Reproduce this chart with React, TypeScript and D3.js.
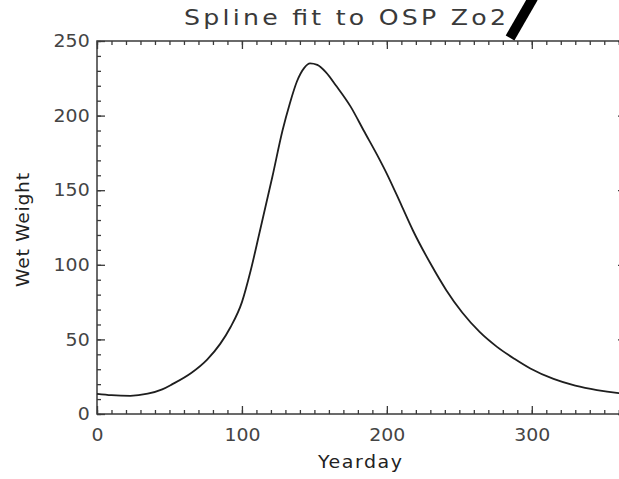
import { useRef, useEffect } from 'react'
import * as d3 from 'd3'

// spline values (yearday, wet weight)
const yeardays = [0, 10, 23, 35, 45, 52, 65, 76, 85, 92, 100, 106, 112, 121, 128, 133, 138, 143, 147, 152, 158, 165, 175, 184, 195, 200, 210, 218, 230, 241, 252, 264, 276, 288, 299, 315, 330, 345, 360, 365]
const wetWeight = [13.5, 12.6, 12.2, 13.6, 16.5, 20, 27.5, 36.5, 47, 58, 75, 96, 121, 159, 190, 208, 223, 232, 235, 234, 229, 220, 206, 190, 170.5, 161, 140, 123, 101, 83, 68, 55, 45, 37, 30.5, 23.5, 19, 16, 14, 13.5]

const xTicks = [0, 100, 200, 300]
const yTicks = [0, 50, 100, 150, 200, 250]
const xDomain = [0, 365]
const yDomain = [0, 250]

// the black slash over the title corner, in data units
const slash = [
	{ x: 285, y: 252 },
	{ x: 301, y: 279 },
]

const title = 'Spline fit to OSP Zo2'
const xLabel = 'Yearday'
const yLabel = 'Wet Weight'

export default function App() {
	const ref = useRef<SVGSVGElement>(null)

	const chartWidth = 619
	const chartHeight = 479
	const margin = { top: 41, right: -7, bottom: 65, left: 97 }
	const width = chartWidth - margin.left - margin.right
	const height = chartHeight - margin.top - margin.bottom

	useEffect(() => {
		const svg = d3.select(ref.current)
		svg.selectAll('*').remove()

		const x = d3.scaleLinear().domain(xDomain).range([0, width])
		const y = d3.scaleLinear().domain(yDomain).range([height, 0])

		const g = svg.append('g').attr('transform', `translate(${margin.left},${margin.top})`)

		const axisColor = '#3a3a3a'
		const font = 'DejaVu Sans, sans-serif'
		const minorX = d3.range(0, 366, 10)
		const minorY = d3.range(0, 251, 10)

		// frame
		g.append('rect')
			.attr('width', width)
			.attr('height', height)
			.attr('fill', 'none')
			.attr('stroke', axisColor)
			.attr('stroke-width', 1.5)

		const styleAxis = (sel: any) => {
			sel.select('.domain').remove()
			sel.selectAll('line').attr('stroke', axisColor).attr('stroke-width', 1.3)
			sel.selectAll('text')
				.attr('fill', '#444')
				.attr('font-family', font)
				.attr('font-size', 18)
				.attr('transform', 'scale(1.05,1)')
		}

		// minor ticks
		g.append('g').attr('transform', `translate(0,${height})`)
			.call(d3.axisBottom(x).tickValues(minorX).tickSize(-4).tickFormat(() => ''))
			.call(styleAxis)
		g.append('g')
			.call(d3.axisTop(x).tickValues(minorX).tickSize(-4).tickFormat(() => ''))
			.call(styleAxis)
		g.append('g')
			.call(d3.axisLeft(y).tickValues(minorY).tickSize(-4).tickFormat(() => ''))
			.call(styleAxis)
		g.append('g').attr('transform', `translate(${width},0)`)
			.call(d3.axisRight(y).tickValues(minorY).tickSize(-4).tickFormat(() => ''))
			.call(styleAxis)

		// major ticks with labels
		g.append('g').attr('transform', `translate(0,${height})`)
			.call(d3.axisBottom(x).tickValues(xTicks).tickSize(-8).tickPadding(14).tickFormat(d3.format('d')))
			.call(styleAxis)
		g.append('g')
			.call(d3.axisTop(x).tickValues(xTicks).tickSize(-8).tickFormat(() => ''))
			.call(styleAxis)
		g.append('g')
			.call(d3.axisLeft(y).tickValues(yTicks).tickSize(-8).tickPadding(7).tickFormat(d3.format('d')))
			.call(styleAxis)
		g.append('g').attr('transform', `translate(${width},0)`)
			.call(d3.axisRight(y).tickValues(yTicks).tickSize(-8).tickFormat(() => ''))
			.call(styleAxis)

		// curve
		const data = yeardays.map((d, i) => ({ x: d, y: wetWeight[i] }))
		const line = d3.line<{ x: number; y: number }>()
			.x((d) => x(d.x))
			.y((d) => y(d.y))
			.curve(d3.curveMonotoneX)
		g.append('path')
			.datum(data)
			.attr('d', line)
			.attr('fill', 'none')
			.attr('stroke', '#1e1e1e')
			.attr('stroke-width', 1.8)

		// slash
		g.append('path')
			.datum(slash)
			.attr('d', d3.line<{ x: number; y: number }>().x((d) => x(d.x)).y((d) => y(d.y)))
			.attr('stroke', '#000')
			.attr('stroke-width', 10)
			.attr('fill', 'none')

		// texts, drawn a bit wide like the plotting font
		const wideText = (cx: number, cy: number, rot: number, sx: number, size: number, len: number, txt: string, color: string) => {
			svg.append('g')
				.attr('transform', `translate(${cx},${cy}) rotate(${rot}) scale(${sx},1)`)
				.append('text')
				.attr('text-anchor', 'middle')
				.attr('textLength', len / sx)
				.attr('lengthAdjust', 'spacing')
				.attr('font-family', font)
				.attr('font-size', size)
				.attr('fill', color)
				.text(txt)
		}
		wideText(345, 25, 0, 1.2, 21, 322, title, '#3a3a3a')
		wideText(360, 468, 0, 1.12, 17, 84, xLabel, '#222')
		wideText(29, 230, -90, 1.1, 17, 114, yLabel, '#222')
	}, [])

	return (
		<div style={{ position: 'absolute', left: 0, top: 0, width: chartWidth, height: chartHeight, overflow: 'hidden', background: '#fff' }}>
			<svg ref={ref} width={chartWidth} height={chartHeight}></svg>
		</div>
	)
}
